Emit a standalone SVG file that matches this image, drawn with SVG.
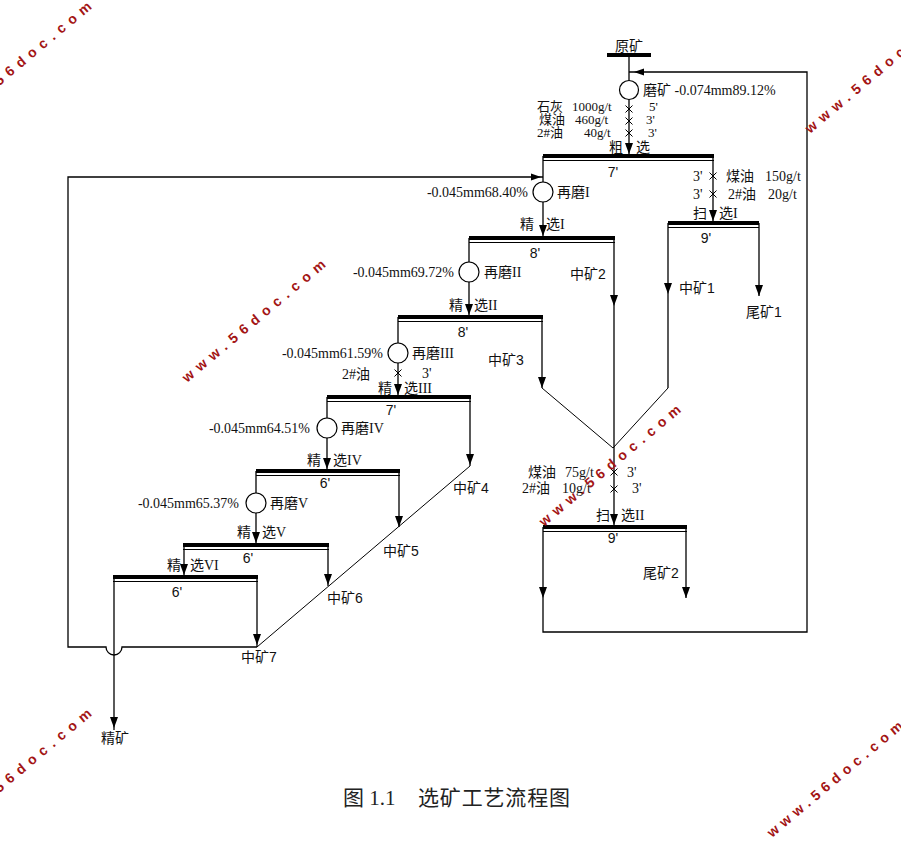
<svg xmlns="http://www.w3.org/2000/svg" width="901" height="855" viewBox="0 0 901 855">
<style>
.t{font-family:"Liberation Serif","Noto Sans CJK SC",serif;font-size:14px;fill:#111}
.r{font-size:13px}
.s{font-family:"Liberation Sans","Noto Sans CJK SC",sans-serif;font-size:14px;fill:#111}
.m{text-anchor:middle}
.e{text-anchor:end}
.ln{fill:none;stroke:#000;stroke-width:1.3}
.dg{fill:none;stroke:#000;stroke-width:1}
.bar{stroke:#000;stroke-width:4}
.bt{stroke:#000;stroke-width:1}
.c{fill:#fff;stroke:#000;stroke-width:1.2}
.x{stroke:#000;stroke-width:1}
.ah{fill:#000}
.wm{font-family:"Liberation Sans",sans-serif;font-weight:bold;font-size:14px;fill:#a31515}
.cap{font-family:"Liberation Serif","Noto Sans CJK SC",serif;font-size:21px;fill:#222}
</style>
<defs>
<path id="ad" d="M-4,-11 H4 L0,0 Z"/>
<path id="al" d="M10,-3.5 V3.5 L0,0 Z"/>
<path id="ar" d="M-10,-3.5 V3.5 L0,0 Z"/>
<path id="cx" d="M-3.5,-3.5 L3.5,3.5 M3.5,-3.5 L-3.5,3.5"/>
</defs>
<rect width="901" height="855" fill="#fff"/>

<g id="connectors">
<line class="ln" x1="629" y1="55" x2="629" y2="156"/>
<path class="ln" d="M543,527 V632 H807 V72 H629"/>
<line class="ln" x1="543" y1="156" x2="543" y2="238"/>
<path class="ln" d="M543,177 H68 V647 H106 A8,8 0 0 0 122,647 H257"/>
<line class="ln" x1="713" y1="156" x2="713" y2="223"/>
<line class="ln" x1="668" y1="223" x2="668" y2="388"/>
<line class="ln" x1="759" y1="223" x2="759" y2="296"/>
<line class="ln" x1="614" y1="238" x2="614" y2="527"/>
<line class="ln" x1="469" y1="238" x2="469" y2="317"/>
<line class="ln" x1="542" y1="317" x2="542" y2="388"/>
<line class="ln" x1="398" y1="317" x2="398" y2="397"/>
<path class="dg" d="M542,388 L613,448 L668,388"/>
<line class="ln" x1="470" y1="397" x2="470" y2="466"/>
<line class="ln" x1="327" y1="397" x2="327" y2="471"/>
<path class="dg" d="M470,466 L257,647"/>
<line class="ln" x1="399" y1="471" x2="399" y2="527"/>
<line class="ln" x1="256" y1="471" x2="256" y2="545"/>
<line class="ln" x1="328" y1="545" x2="328" y2="586"/>
<line class="ln" x1="184" y1="545" x2="184" y2="577"/>
<line class="ln" x1="257" y1="577" x2="257" y2="647"/>
<line class="ln" x1="114" y1="577" x2="114" y2="730"/>
<line class="ln" x1="686" y1="527" x2="686" y2="598"/>
<use class="ah" href="#al" x="634" y="72"/>
<use class="ah" href="#ar" x="541" y="177"/>
<use class="ah" href="#ad" x="629" y="154"/>
<use class="ah" href="#ad" x="713" y="221"/>
<use class="ah" href="#ad" x="543" y="236"/>
<use class="ah" href="#ad" x="668" y="294"/>
<use class="ah" href="#ad" x="759" y="296"/>
<use class="ah" href="#ad" x="614" y="306"/>
<use class="ah" href="#ad" x="469" y="315"/>
<use class="ah" href="#ad" x="542" y="388"/>
<use class="ah" href="#ad" x="398" y="395"/>
<use class="ah" href="#ad" x="470" y="465"/>
<use class="ah" href="#ad" x="327" y="469"/>
<use class="ah" href="#ad" x="399" y="527"/>
<use class="ah" href="#ad" x="256" y="543"/>
<use class="ah" href="#ad" x="328" y="585"/>
<use class="ah" href="#ad" x="184" y="575"/>
<use class="ah" href="#ad" x="257" y="645"/>
<use class="ah" href="#ad" x="114" y="728"/>
<use class="ah" href="#ad" x="614" y="525"/>
<use class="ah" href="#ad" x="543" y="598"/>
<use class="ah" href="#ad" x="686" y="598"/>
<use class="x" href="#cx" x="629" y="109"/>
<use class="x" href="#cx" x="629" y="121"/>
<use class="x" href="#cx" x="629" y="133"/>
<use class="x" href="#cx" x="713" y="176"/>
<use class="x" href="#cx" x="713" y="194"/>
<use class="x" href="#cx" x="398" y="373"/>
<use class="x" href="#cx" x="614" y="472"/>
<use class="x" href="#cx" x="614" y="489"/>
</g>

<g id="feed">
<line class="bar" x1="607" y1="55" x2="651" y2="55"/>
<text class="t m" x="629" y="51">原矿</text>
</g>

<g id="grinding">
<circle class="c" cx="629" cy="90" r="9.5"/>
<text class="t" x="643" y="95">磨矿 -0.074mm89.12%</text>
<text class="t r" x="537" y="111">石灰</text><text class="t r" x="572" y="111">1000g/t</text>
<text class="t r" x="539" y="124">煤油</text><text class="t r" x="575" y="124">460g/t</text>
<text class="t r" x="537" y="137">2#油</text><text class="t r" x="584" y="137">40g/t</text>
<text class="t r" x="649" y="111">5'</text>
<text class="t r" x="646" y="124">3'</text>
<text class="t r" x="648" y="137">3'</text>
</g>

<g id="rougher">
<line class="bar" x1="543" y1="156" x2="714" y2="156"/>
<line class="bt" x1="543" y1="160.5" x2="714" y2="160.5"/>
<text class="t" x="609" y="152">粗</text><text class="t" x="636" y="152">选</text>
<text class="s m" x="613" y="177">7'</text>
</g>

<g id="scavenger1">
<text class="t" x="693" y="181">3'</text><text class="t" x="726" y="181">煤油</text><text class="t" x="765" y="181">150g/t</text>
<text class="t" x="693" y="199">3'</text><text class="t" x="728" y="199">2#油</text><text class="t" x="768" y="199">20g/t</text>
<text class="t" x="693" y="218">扫</text><text class="t" x="719" y="218">选I</text>
<line class="bar" x1="668" y1="223" x2="759" y2="223"/>
<line class="bt" x1="668" y1="227.5" x2="759" y2="227.5"/>
<text class="s m" x="706" y="243">9'</text>
<text class="s" x="679" y="293">中矿1</text>
<text class="s" x="746" y="317">尾矿1</text>
</g>

<g id="regrind1">
<circle class="c" cx="543" cy="192" r="10"/>
<text class="t e" x="528" y="197">-0.045mm68.40%</text>
<text class="t" x="557" y="197">再磨I</text>
</g>

<g id="cleaner1">
<text class="t" x="520" y="229">精</text><text class="t" x="546" y="229">选I</text>
<line class="bar" x1="469" y1="238" x2="615" y2="238"/>
<line class="bt" x1="469" y1="242.5" x2="615" y2="242.5"/>
<text class="s m" x="535" y="258">8'</text>
<text class="s" x="570" y="279">中矿2</text>
</g>

<g id="regrind2">
<circle class="c" cx="469" cy="272" r="10"/>
<text class="t e" x="454" y="277">-0.045mm69.72%</text>
<text class="t" x="484" y="277">再磨II</text>
</g>

<g id="cleaner2">
<text class="t" x="449" y="310">精</text><text class="t" x="474" y="310">选II</text>
<line class="bar" x1="398" y1="317" x2="543" y2="317"/>
<line class="bt" x1="398" y1="321.5" x2="543" y2="321.5"/>
<text class="s m" x="463" y="337">8'</text>
<text class="s" x="488" y="365">中矿3</text>
</g>

<g id="regrind3">
<circle class="c" cx="398" cy="353" r="10"/>
<text class="t e" x="383" y="358">-0.045mm61.59%</text>
<text class="t" x="412" y="358">再磨III</text>
<text class="t" x="342" y="379">2#油</text>
<text class="t" x="422" y="378">3'</text>
</g>

<g id="cleaner3">
<text class="t" x="378" y="393">精</text><text class="t" x="404" y="393">选III</text>
<line class="bar" x1="327" y1="397" x2="471" y2="397"/>
<line class="bt" x1="327" y1="401.5" x2="471" y2="401.5"/>
<text class="s m" x="391" y="415">7'</text>
<text class="s" x="453" y="493">中矿4</text>
</g>

<g id="regrind4">
<circle class="c" cx="327" cy="428" r="10"/>
<text class="t e" x="310" y="433">-0.045mm64.51%</text>
<text class="t" x="341" y="433">再磨IV</text>
</g>

<g id="cleaner4">
<text class="t" x="307" y="465">精</text><text class="t" x="333" y="465">选IV</text>
<line class="bar" x1="256" y1="471" x2="400" y2="471"/>
<line class="bt" x1="256" y1="475.5" x2="400" y2="475.5"/>
<text class="s m" x="325" y="488">6'</text>
<text class="s" x="383" y="556">中矿5</text>
</g>

<g id="regrind5">
<circle class="c" cx="256" cy="503" r="10"/>
<text class="t e" x="239" y="508">-0.045mm65.37%</text>
<text class="t" x="270" y="508">再磨V</text>
</g>

<g id="cleaner5">
<text class="t" x="237" y="537">精</text><text class="t" x="262" y="537">选V</text>
<line class="bar" x1="183" y1="545" x2="329" y2="545"/>
<line class="bt" x1="183" y1="549.5" x2="329" y2="549.5"/>
<text class="s m" x="248" y="563">6'</text>
<text class="s" x="327" y="603">中矿6</text>
</g>

<g id="cleaner6">
<text class="t" x="167" y="570">精</text><text class="t" x="190" y="570">选VI</text>
<line class="bar" x1="113" y1="577" x2="258" y2="577"/>
<line class="bt" x1="113" y1="581.5" x2="258" y2="581.5"/>
<text class="s m" x="177" y="597">6'</text>
<text class="s" x="241" y="662">中矿7</text>
</g>

<g id="concentrate">
<text class="s" x="101" y="743">精矿</text>
</g>

<g id="scavenger2">
<text class="t" x="528" y="477">煤油</text><text class="t" x="565" y="477">75g/t</text><text class="t" x="627" y="477">3'</text>
<text class="t" x="522" y="493">2#油</text><text class="t" x="562" y="493">10g/t</text><text class="t" x="632" y="493">3'</text>
<text class="t" x="596" y="520">扫</text><text class="t" x="621" y="520">选II</text>
<line class="bar" x1="543" y1="527" x2="687" y2="527"/>
<line class="bt" x1="543" y1="531.5" x2="687" y2="531.5"/>
<text class="s m" x="613" y="543">9'</text>
<text class="s" x="643" y="578">尾矿2</text>
</g>

<g id="caption">
<text class="cap" x="343" y="805">图 1.1</text>
<text class="cap" x="418" y="805" textLength="152">选矿工艺流程图</text>
</g>

<g id="watermarks">
<text class="wm" transform="translate(-47,125) rotate(-40)" textLength="182">www.56doc.com</text>
<text class="wm" transform="translate(810,134) rotate(-40)" textLength="182">www.56doc.com</text>
<text class="wm" transform="translate(187,383) rotate(-40)" textLength="182">www.56doc.com</text>
<text class="wm" transform="translate(544,527) rotate(-40)" textLength="180">www.56doc.com</text>
<text class="wm" transform="translate(-47,832) rotate(-40)" textLength="182">www.56doc.com</text>
<text class="wm" transform="translate(772,838) rotate(-40)" textLength="172">www.56doc.com</text>
</g>
</svg>
